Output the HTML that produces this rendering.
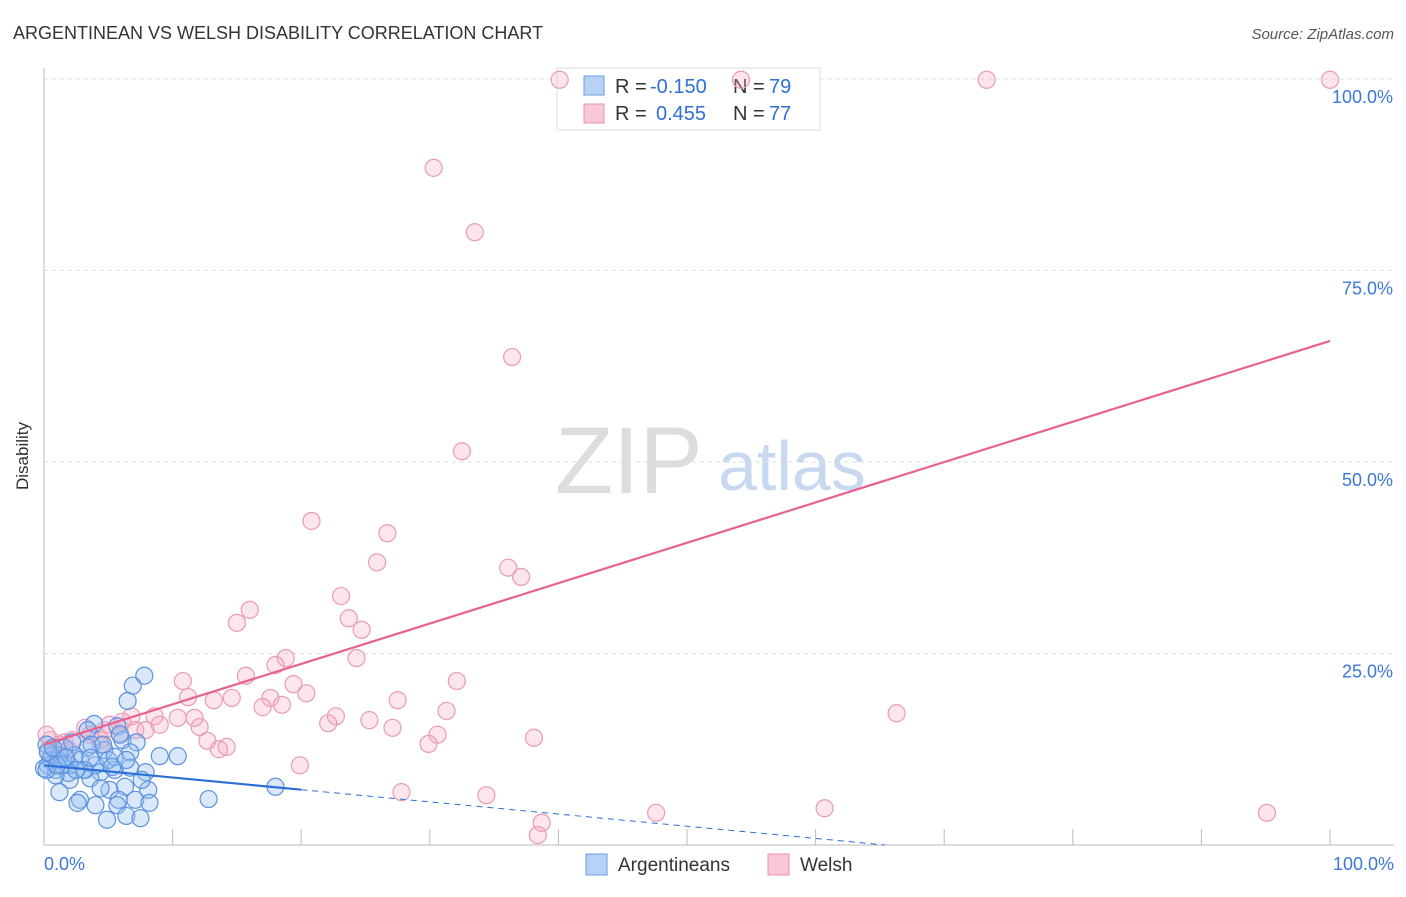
<!DOCTYPE html>
<html><head><meta charset="utf-8"><style>
body{margin:0;background:#fff;font-family:"Liberation Sans",sans-serif}
svg text{font-family:"Liberation Sans",sans-serif}
</style></head><body>
<svg id="chart" width="1406" height="892" viewBox="0 0 1406 892">
<text x="13" y="39" font-size="18" fill="#333">ARGENTINEAN VS WELSH DISABILITY CORRELATION CHART</text>
<text x="1394" y="39" font-size="15" fill="#555" font-style="italic" text-anchor="end">Source: ZipAtlas.com</text>
<text x="28" y="456" font-size="17" fill="#333" transform="rotate(-90 28 456)" text-anchor="middle">Disability</text>
<text x="555" y="493" font-size="95" fill="#ddd" font-family="Liberation Serif">ZIP</text>
<text x="718" y="490" font-size="70" fill="#c8d8f0">atlas</text>
<g id="grid"></g>
<g>
<rect x="557" y="68" width="263" height="62" fill="#fff" stroke="#ddd"/>
<rect x="584" y="76" width="20" height="19" fill="#b8d2f5" stroke="#6a9be0"/>
<rect x="584" y="104" width="20" height="19" fill="#f8c8d6" stroke="#e890aa"/>
<text x="615" y="93" font-size="20" fill="#333">R =</text>
<text x="650" y="93" font-size="20" fill="#2f6fd6">-0.150</text>
<text x="733" y="93" font-size="20" fill="#333">N =</text>
<text x="769" y="93" font-size="20" fill="#2f6fd6">79</text>
<text x="615" y="120" font-size="20" fill="#333">R =</text>
<text x="656" y="120" font-size="20" fill="#2f6fd6">0.455</text>
<text x="733" y="120" font-size="20" fill="#333">N =</text>
<text x="769" y="120" font-size="20" fill="#2f6fd6">77</text>
</g>
<g id="pts"></g><g id="lines"></g>
<g>
<rect x="586" y="854" width="21" height="21" fill="#b8d2f5" stroke="#6a9be0"/>
<text x="618" y="871" font-size="19" fill="#333">Argentineans</text>
<rect x="768" y="854" width="21" height="21" fill="#f8c8d6" stroke="#e890aa"/>
<text x="800" y="871" font-size="19" fill="#333">Welsh</text>
</g>
</svg>
<script>
const yTicks=[25,50,75,100];
const blueX=[7.8,6.9,6.5,3.9,5.7,6.1,7.2,6.7,4.7,3.4,2.4,1.2,0.5,0.9,2.0,3.2,4.4,5.5,6.7,7.9,9.0,10.4,2.0,3.6,5.1,6.3,8.1,7.6,1.2,2.8,4.4,5.8,7.1,8.2,5.7,4.9,6.4,7.5,2.6,12.8,18.0,0.2,0.3,0.6,1.1,1.6,2.2,2.8,4.0,3.4,5.0,1.9,0.9,1.4,3.7,4.6,5.5,5.9,4.0,0.3,0.7,3.1,0,0.2,1,1.7,2.5,3.6,5.3,6.4];
const blueY=[22.1,20.8,18.8,15.8,15.5,13.7,13.4,12.1,12.4,12.7,11.7,11.7,11.1,9.8,10.4,9.8,9.5,9.8,10.1,9.5,11.6,11.6,8.5,8.7,7.2,7.6,7.2,8.5,6.9,5.9,7.4,5.9,5.9,5.5,5.2,3.3,3.8,3.5,5.5,6.0,7.6,13.1,10.4,11.7,11.1,12.7,13.4,11.1,10.4,15.0,11.1,9.4,9.1,10.4,13.1,13.1,11.5,14.4,5.2,12.1,12.7,9.8,10,9.8,10.4,11.4,9.8,11.4,10.2,11.1];
const pinkX=[40.1,54.2,73.3,100,30.3,33.5,36.4,32.5,20.8,26.7,25.9,36.1,37.1,16.0,23.1,15.0,23.7,24.7,18.8,18.0,24.3,15.7,10.8,19.4,20.4,11.2,14.6,17.6,13.2,17.0,18.5,27.5,32.1,31.3,66.3,22.7,22.1,25.3,27.1,12.1,8.6,10.4,11.7,12.7,14.2,13.6,30.6,29.9,38.1,19.9,27.8,34.4,60.7,47.6,38.7,38.4,95.1,6.1,7.1,7.9,9.0,6.8,4.7,4.4,3.2,2.2,1.2,0.5,0.3,0.9,5.1,5.9,3.6,1.6,4.4,1.9,0.2];
const pinkY=[99.9,99.9,99.9,99.9,88.4,80.0,63.7,51.4,42.3,40.7,36.9,36.2,35.0,30.7,32.5,29.0,29.6,28.1,24.4,23.5,24.4,22.1,21.4,21.0,19.8,19.3,19.2,19.2,18.9,18.0,18.3,18.9,21.4,17.5,17.2,16.8,15.9,16.3,15.3,15.4,16.8,16.6,16.6,13.6,12.8,12.5,14.4,13.2,14.0,10.4,6.9,6.5,4.8,4.2,2.9,1.3,4.2,16.1,15.0,15.0,15.7,16.8,15.0,13.7,15.3,13.7,13.1,13.7,12.4,11.7,15.7,14.6,14.4,13.4,13.1,12.4,14.4];
const pinkTrend=[13.1,65.8];
const blueTrend=[10.4,-0.159];
const NS="http://www.w3.org/2000/svg";
const sx=v=>44+v*12.86, sy=v=>845-v*7.66;
function mk(t,a,p){const e=document.createElementNS(NS,t);for(const k in a)e.setAttribute(k,a[k]);p.appendChild(e);return e;}
const grid=document.getElementById('grid');
yTicks.forEach(t=>{
 const l=mk('line',{x1:44,x2:1394,y1:sy(t),y2:sy(t),stroke:'#ddd','stroke-dasharray':'4 4'},grid);
 
 
 const tx=mk('text',{x:1393,y:sy(t)+24,'font-size':18,fill:'#3b78d8','text-anchor':'end'},grid);
 tx.textContent=t.toFixed(1)+'%';
 
 
});
const ax=mk('line',{x1:44,x2:44,y1:68,y2:845,stroke:'#bbb'},grid);


const bx=mk('line',{x1:44,x2:1394,y1:845,y2:845,stroke:'#bbb'},grid);


for(let i=0;i<=10;i++){const l=mk('line',{x1:sx(i*10),x2:sx(i*10),y1:829,y2:845,stroke:'#bbb'},grid);
 
 }
[[0,'0.0%','start',44],[100,'100.0%','end',1394]].forEach(d=>{const t=mk('text',{x:d[3],y:870,'font-size':18,fill:'#3b78d8','text-anchor':d[2]},grid);t.textContent=d[1];
 
 });
const pts=document.getElementById('pts');
pinkX.forEach((x,i)=>{const c=mk('circle',{cx:sx(x),cy:sy(pinkY[i]),r:8.5,fill:'rgba(245,170,195,0.3)',stroke:'#eb9ab4','stroke-width':1.2},pts);
 
 });
blueX.forEach((x,i)=>{const c=mk('circle',{cx:sx(x),cy:sy(blueY[i]),r:8.5,fill:'rgba(150,190,240,0.35)',stroke:'#5a92e0','stroke-width':1.2},pts);
 
 });
const lines=document.getElementById('lines');
const pl=mk('line',{x1:sx(0),y1:sy(pinkTrend[0]),x2:sx(100),y2:sy(pinkTrend[1]),stroke:'#e8628f','stroke-width':2.2},lines);


const bz=-blueTrend[0]/blueTrend[1];
const bl=mk('line',{x1:sx(0),y1:sy(blueTrend[0]),x2:sx(20),y2:sy(blueTrend[0]+blueTrend[1]*20),stroke:'#2a6fd6','stroke-width':2.2},lines);


const bd=mk('line',{x1:sx(20),y1:sy(blueTrend[0]+blueTrend[1]*20),x2:sx(bz),y2:sy(0),stroke:'#2a6fd6','stroke-width':1,'stroke-dasharray':'6 5'},lines);


</script>
</body></html>
